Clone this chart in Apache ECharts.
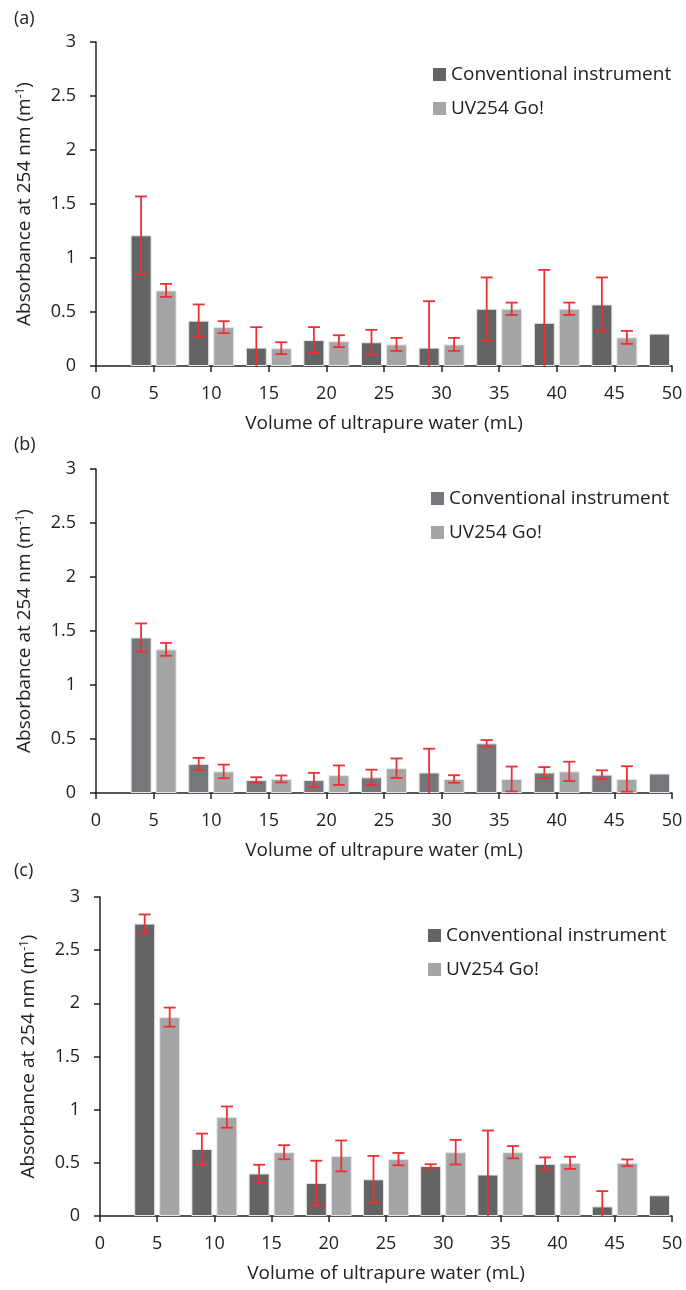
<!DOCTYPE html>
<html>
<head>
<meta charset="utf-8">
<script src="https://cdn.jsdelivr.net/npm/echarts@6/dist/echarts.min.js"></script>
<style>
html,body{margin:0;padding:0;background:#fff;}
#c{width:686px;height:1290px;}
</style>
</head>
<body>
<div id="c"></div>
<script>
// ---- data ----
const xConv = [5,10,15,20,25,30,35,40,45,50];
const xUv   = [5,10,15,20,25,30,35,40,45];
const xTicks = [0,5,10,15,20,25,30,35,40,45,50];

const aConv    = [1.21,0.42,0.17,0.24,0.22,0.17,0.53,0.40,0.57,0.30];
const aConvErr = [0.36,0.15,0.19,0.12,0.115,0.43,0.29,0.49,0.25,null];
const aUv      = [0.70,0.36,0.165,0.23,0.20,0.20,0.53,0.53,0.265];
const aUvErr   = [0.06,0.055,0.055,0.055,0.06,0.06,0.057,0.057,0.06];

const bConv    = [1.44,0.27,0.12,0.12,0.145,0.19,0.46,0.19,0.17,0.18];
const bConvErr = [0.13,0.055,0.026,0.066,0.071,0.22,0.03,0.05,0.04,null];
const bUv      = [1.33,0.20,0.13,0.165,0.23,0.13,0.13,0.20,0.13];
const bUvErr   = [0.06,0.063,0.032,0.09,0.09,0.035,0.115,0.09,0.118];

const cConv    = [2.75,0.63,0.40,0.31,0.345,0.47,0.39,0.49,0.09,0.195];
const cConvErr = [0.086,0.145,0.082,0.21,0.22,0.017,0.414,0.061,0.144,null];
const cUv      = [1.87,0.93,0.60,0.565,0.535,0.60,0.60,0.50,0.50];
const cUvErr   = [0.09,0.10,0.066,0.145,0.058,0.116,0.058,0.057,0.032];

const panelLabels = ['(a)','(b)','(c)'];
const seriesNames = ['Conventional instrument','UV254 Go!'];
const xTitle = 'Volume of ultrapure water (mL)';
const yTitle = 'Absorbance at 254 nm (m{sup|-1})';

// ---- styles ----
const FONT = '"Open Sans", "Noto Sans", sans-serif';
const TXT = '#222222';
const darkCols = ['#646464','#76777b','#646464'];
const lightCol = '#a5a5a5';
const errCol = '#ee3035';
const BARW = 21, BARGAP = '19%';
const OFF = 12.5, CAP = 6;

const grids = [
  {left:96, top:42, width:576, height:324},
  {left:96, top:469, width:576, height:324},
  {left:100, top:897, width:572, height:319}
];
const legendPos = [
  {left:428, top:60},
  {left:426, top:484},
  {left:423, top:921}
];
const labelTops = [10, 436, 862];

const panels = [
  {conv:aConv, convErr:aConvErr, uv:aUv, uvErr:aUvErr},
  {conv:bConv, convErr:bConvErr, uv:bUv, uvErr:bUvErr},
  {conv:cConv, convErr:cConvErr, uv:cUv, uvErr:cUvErr}
];

function errRender(offset){
  return function(params, api){
    const x = api.value(0), v = api.value(1), e = api.value(2);
    if (e == null || isNaN(e)) return null;
    const hi = v + e, lo = Math.max(0, v - e);
    const pTop = api.coord([x, hi]);
    const pBot = api.coord([x, lo]);
    const cx = pTop[0] + offset;
    const st = {stroke:errCol, lineWidth:1.8};
    const children = [
      {type:'line', shape:{x1:cx, y1:pTop[1], x2:cx, y2:pBot[1]}, style:st},
      {type:'line', shape:{x1:cx-CAP, y1:pTop[1], x2:cx+CAP, y2:pTop[1]}, style:st}
    ];
    if (v - e > 0) {
      children.push({type:'line', shape:{x1:cx-CAP, y1:pBot[1], x2:cx+CAP, y2:pBot[1]}, style:st});
    }
    return {type:'group', children};
  };
}

const xAxes = [], yAxes = [], series = [], legends = [], graphics = [];
panels.forEach((p, i) => {
  xAxes.push({
    type:'value', gridIndex:i, min:0, max:50, interval:5,
    name:xTitle, nameLocation:'middle', nameGap:48,
    nameTextStyle:{fontFamily:FONT, fontSize:19, color:TXT},
    axisLine:{show:true, lineStyle:{color:TXT, width:1.5}},
    axisTick:{show:true, length:6, lineStyle:{color:TXT, width:1.5}},
    axisLabel:{fontFamily:FONT, fontSize:18, color:TXT, margin:19},
    splitLine:{show:false}
  });
  yAxes.push({
    type:'value', gridIndex:i, min:0, max:3, interval:0.5,
    name:yTitle, nameLocation:'middle', nameGap:61, nameRotate:90,
    nameTextStyle:{fontFamily:FONT, fontSize:19, color:TXT,
      rich:{sup:{fontFamily:FONT, fontSize:12, color:TXT, verticalAlign:'top', padding:[0,0,8,0]}}},
    axisLine:{show:true, lineStyle:{color:TXT, width:1.5}},
    axisTick:{show:true, length:6, lineStyle:{color:TXT, width:1.5}},
    axisLabel:{fontFamily:FONT, fontSize:18, color:TXT, margin:20},
    splitLine:{show:false}
  });
  series.push({
    type:'bar', name:seriesNames[0], xAxisIndex:i, yAxisIndex:i,
    barWidth:BARW, barGap:BARGAP,
    itemStyle:{color:darkCols[i], borderColor:'#e6e6e6', borderWidth:1},
    data:xConv.map((x, k) => [x, p.conv[k]])
  });
  series.push({
    type:'bar', name:seriesNames[1], xAxisIndex:i, yAxisIndex:i,
    barWidth:BARW, barGap:BARGAP,
    itemStyle:{color:lightCol, borderColor:'#e6e6e6', borderWidth:1},
    data:xUv.map((x, k) => [x, p.uv[k]])
  });
  series.push({
    type:'custom', xAxisIndex:i, yAxisIndex:i, z:5,
    renderItem:errRender(-OFF),
    data:xConv.map((x, k) => [x, p.conv[k], p.convErr[k]])
  });
  series.push({
    type:'custom', xAxisIndex:i, yAxisIndex:i, z:5,
    renderItem:errRender(OFF),
    data:xUv.map((x, k) => [x, p.uv[k], p.uvErr[k]])
  });
  legends.push({
    orient:'vertical', left:legendPos[i].left, top:legendPos[i].top,
    itemWidth:13, itemHeight:13, itemGap:15, icon:'rect',
    selectedMode:false,
    textStyle:{fontFamily:FONT, fontSize:19, color:TXT},
    data:[{name:seriesNames[0], itemStyle:{color:darkCols[i], borderWidth:0}},
          {name:seriesNames[1], itemStyle:{color:lightCol, borderWidth:0}}]
  });
  graphics.push({
    type:'text', left:14, top:labelTops[i],
    style:{text:panelLabels[i], fontFamily:FONT, fontSize:18, fill:TXT}
  });
});

const chart = echarts.init(document.getElementById('c'), null, {renderer:'canvas'});
chart.setOption({
  animation:false,
  backgroundColor:'#ffffff',
  grid:grids,
  xAxis:xAxes,
  yAxis:yAxes,
  legend:legends,
  graphic:graphics,
  series:series
});
</script>
</body>
</html>
